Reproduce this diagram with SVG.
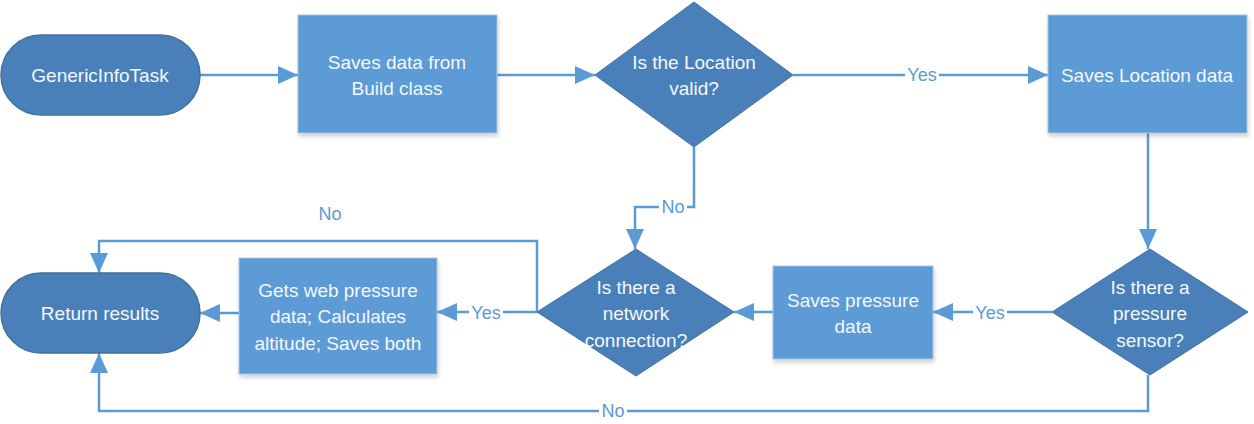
<svg xmlns="http://www.w3.org/2000/svg" width="1254" height="424" viewBox="0 0 1254 424">
<defs>
<marker id="ah" markerUnits="userSpaceOnUse" markerWidth="20" markerHeight="18" refX="20" refY="9" orient="auto"><path d="M0,0 L20,9 L0,18 Z" fill="#5B9BD5"/></marker>
<filter id="sh" x="-10%" y="-10%" width="125%" height="130%"><feDropShadow dx="1" dy="3" stdDeviation="2" flood-color="#000" flood-opacity="0.18"/></filter>
<style>
.term{fill:#4A80BA;stroke:#41719C;stroke-width:1.5}
.dec{fill:#4A80BA;stroke:#41719C;stroke-width:1}
.proc{fill:#5B9BD5;stroke:#A9C4E0;stroke-width:1;filter:url(#sh)}
.t{font-family:"Liberation Sans",Arial,sans-serif;font-size:19px;fill:#F4F8FC;text-anchor:middle}
.c{fill:none;stroke:#5B9BD5;stroke-width:2.5}
.lb{font-family:"Liberation Sans",Arial,sans-serif;font-size:18px;fill:#5B9BD5;text-anchor:middle}
.bg{fill:#fff}
</style>
</defs>
<g id="connectors">
<path class="c" d="M200,75 H298" marker-end="url(#ah)"/>
<path class="c" d="M497,75 H595" marker-end="url(#ah)"/>
<path class="c" d="M793,75 H1048" marker-end="url(#ah)"/>
<path class="c" d="M1148,133 V249" marker-end="url(#ah)"/>
<path class="c" d="M1052,312 H933" marker-end="url(#ah)"/>
<path class="c" d="M773,312 H734" marker-end="url(#ah)"/>
<path class="c" d="M694,147 V207 H635 V249" marker-end="url(#ah)"/>
<path class="c" d="M537,312 H437" marker-end="url(#ah)"/>
<path class="c" d="M239,313 H200" marker-end="url(#ah)"/>
<path class="c" d="M537,312 V241 H99 V273" marker-end="url(#ah)"/>
<path class="c" d="M1148,375 V411 H99 V353" marker-end="url(#ah)"/>
<rect class="bg" x="905" y="65" width="34" height="20"/>
<text class="lb" x="922" y="81">Yes</text>
<rect class="bg" x="659" y="197" width="28" height="20"/>
<text class="lb" x="673" y="213">No</text>
<rect class="bg" x="973" y="302" width="34" height="20"/>
<text class="lb" x="990" y="319">Yes</text>
<rect class="bg" x="469" y="302" width="34" height="20"/>
<text class="lb" x="486" y="319">Yes</text>
<text class="lb" x="330" y="220">No</text>
<rect class="bg" x="599" y="401" width="28" height="20"/>
<text class="lb" x="613" y="417">No</text>
</g>
<g id="n1">
<rect class="term" x="1" y="35" width="199" height="80" rx="40"/>
<text class="t" x="100" y="82">GenericInfoTask</text>
</g>
<g id="n2">
<rect class="proc" x="298" y="15" width="199" height="118"/>
<text class="t" x="397" y="69">Saves data from</text>
<text class="t" x="397" y="95">Build class</text>
</g>
<g id="n3">
<polygon class="dec" points="694,2 793,75 694,147 595,75"/>
<text class="t" x="694" y="69">Is the Location</text>
<text class="t" x="694" y="95">valid?</text>
</g>
<g id="n4">
<rect class="proc" x="1048" y="15" width="199" height="118"/>
<text class="t" x="1147" y="82">Saves Location data</text>
</g>
<g id="n5">
<polygon class="dec" points="1150,249 1248,312 1150,375 1052,312"/>
<text class="t" x="1150" y="294">Is there a</text>
<text class="t" x="1150" y="320">pressure</text>
<text class="t" x="1150" y="347">sensor?</text>
</g>
<g id="n6">
<rect class="proc" x="773" y="266" width="160" height="93"/>
<text class="t" x="853" y="307">Saves pressure</text>
<text class="t" x="853" y="333">data</text>
</g>
<g id="n7">
<polygon class="dec" points="636,249 734,312 636,376 537,312"/>
<text class="t" x="636" y="294">Is there a</text>
<text class="t" x="636" y="320">network</text>
<text class="t" x="636" y="347">connection?</text>
</g>
<g id="n8">
<rect class="proc" x="239" y="258" width="198" height="116"/>
<text class="t" x="338" y="297">Gets web pressure</text>
<text class="t" x="338" y="323">data; Calculates</text>
<text class="t" x="338" y="350">altitude; Saves both</text>
</g>
<g id="n9">
<rect class="term" x="1" y="273" width="199" height="80" rx="40"/>
<text class="t" x="100" y="320">Return results</text>
</g>
</svg>
